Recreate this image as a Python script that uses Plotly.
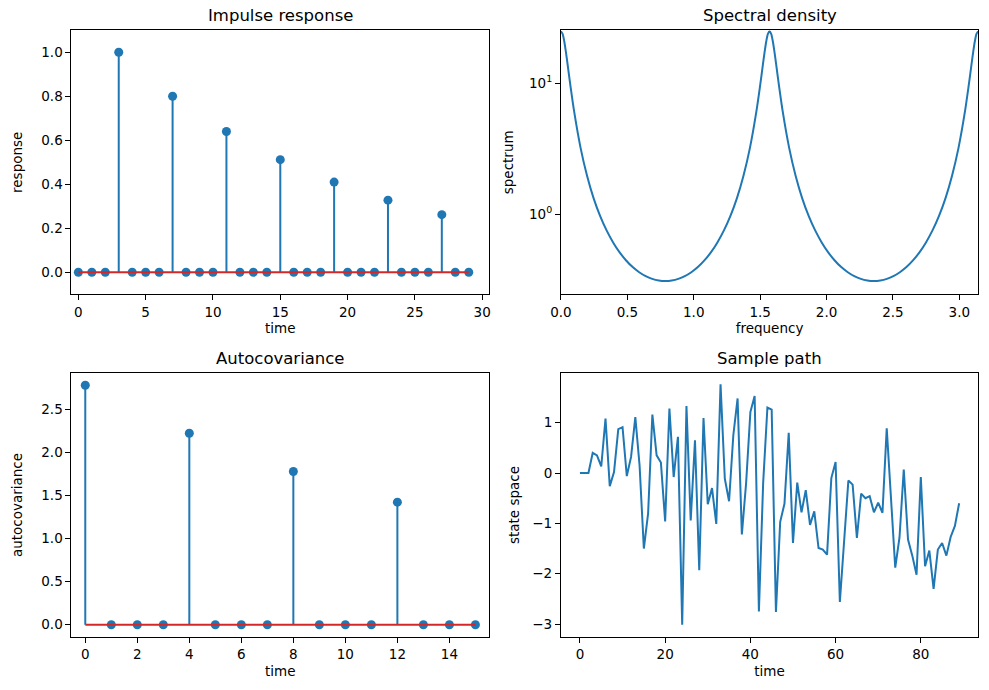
import plotly.graph_objects as go

# ---------------- data ----------------
impulse_time = list(range(30))
impulse_resp = [0, 0, 0, 1.0, 0, 0, 0, 0.8, 0, 0, 0, 0.64, 0, 0, 0, 0.512,
                0, 0, 0, 0.41, 0, 0, 0, 0.328, 0, 0, 0, 0.262, 0, 0]

spec_freq = [0.0, 0.01227, 0.02454, 0.03682, 0.04909, 0.07363, 0.09817, 0.14726,
             0.19635, 0.24544, 0.29452, 0.34361, 0.39270, 0.44179, 0.49087, 0.53996,
             0.58905, 0.63814, 0.68722, 0.73631, 0.78540, 0.83449, 0.88357, 0.93266,
             0.98175, 1.03084, 1.07992, 1.12901, 1.17810, 1.22718, 1.27627, 1.32536,
             1.37445, 1.42353, 1.47262, 1.49717, 1.52171, 1.53398, 1.54625, 1.55853,
             1.57080, 1.58307, 1.59534, 1.60762, 1.61988, 1.64443, 1.66897, 1.71806,
             1.76715, 1.81623, 1.86532, 1.91441, 1.96350, 2.01258, 2.06167, 2.11076,
             2.15984, 2.20893, 2.25802, 2.30711, 2.35619, 2.40528, 2.45437, 2.50346,
             2.55254, 2.60163, 2.65072, 2.69981, 2.74889, 2.79798, 2.84707, 2.89616,
             2.94524, 2.99433, 3.04342, 3.06796, 3.09251, 3.10478, 3.11705, 3.12932,
             3.14159]
spec_vals = [25.0, 23.85, 20.96, 17.45, 14.14, 9.18, 6.18, 3.23,
             1.97, 1.33, 0.973, 0.753, 0.610, 0.512, 0.444, 0.395,
             0.361, 0.337, 0.321, 0.312, 0.309, 0.312, 0.321, 0.337,
             0.361, 0.395, 0.444, 0.512, 0.610, 0.753, 0.973, 1.33,
             1.97, 3.23, 6.18, 9.18, 14.14, 17.45, 20.96, 23.85,
             25.0, 23.85, 20.96, 17.45, 14.14, 9.18, 6.18, 3.23,
             1.97, 1.33, 0.973, 0.753, 0.610, 0.512, 0.444, 0.395,
             0.361, 0.337, 0.321, 0.312, 0.309, 0.312, 0.321, 0.337,
             0.361, 0.395, 0.444, 0.512, 0.610, 0.753, 0.973, 1.33,
             1.97, 3.23, 6.18, 9.18, 14.14, 17.45, 20.96, 23.85,
             25.0]

acov_time = list(range(16))
acov_vals = [2.778, 0, 0, 0, 2.222, 0, 0, 0, 1.778, 0, 0, 0, 1.422, 0, 0, 0]

path_time = list(range(90))
path_vals = [0, 0, 0, 0.40, 0.35, 0.13, 1.08, -0.26, 0.02, 0.87,
             0.91, -0.06, 0.32, 1.11, 0.15, -1.50, -0.80, 1.16, 0.35, 0.21,
             -0.96, 1.28, -0.08, 0.72, -3.01, 1.33, -0.94, 0.65, -1.93, 1.09,
             -0.62, -0.30, -1.01, 1.76, -0.11, -0.56, 0.75, 1.48, -1.22, -0.20,
             1.21, 1.53, -2.75, -0.20, 1.30, 1.26, -2.76, -0.97, -0.61, 0.80,
             -1.39, -0.19, -0.78, -0.34, -1.03, -0.76, -1.49, -1.52, -1.62, -0.10,
             0.22, -2.56, -1.35, -0.15, -0.23, -1.29, -0.41, -0.50, -0.46, -0.78,
             -0.59, -0.79, 0.89, -0.60, -1.88, -1.28, 0.07, -1.32, -1.64, -2.02,
             -0.08, -1.85, -1.54, -2.30, -1.52, -1.39, -1.64, -1.27, -1.05, -0.60]

log_major = [1, 10]
log_major_text = ["10<sup>0</sup>", "10<sup>1</sup>"]
log_minor = [0.3, 0.4, 0.5, 0.6, 0.7, 0.8, 0.9, 2, 3, 4, 5, 6, 7, 8, 9, 20]

# ---------------- style ----------------
BLUE = "#1f77b4"
RED = "#d62728"
FONT = "DejaVu Sans"
W, H = 989, 690

fig = go.Figure()


def stem(x, y, xa, ya):
    fig.add_trace(go.Scatter(
        x=x, y=y, mode="markers", xaxis=xa, yaxis=ya,
        marker=dict(color=BLUE, size=9, line=dict(width=0)),
        error_y=dict(type="data", symmetric=False, array=[0] * len(y),
                     arrayminus=y, width=0, thickness=2, color=BLUE),
        showlegend=False, hoverinfo="skip"))
    fig.add_trace(go.Scatter(
        x=[x[0], x[-1]], y=[0, 0], mode="lines", xaxis=xa, yaxis=ya,
        line=dict(color=RED, width=2), showlegend=False, hoverinfo="skip"))


stem(impulse_time, impulse_resp, "x", "y")
fig.add_trace(go.Scatter(x=spec_freq, y=spec_vals, mode="lines", xaxis="x2", yaxis="y2",
                         line=dict(color=BLUE, width=2, shape="spline", smoothing=0.8),
                         showlegend=False))
stem(acov_time, acov_vals, "x3", "y3")
fig.add_trace(go.Scatter(x=path_time, y=path_vals, mode="lines", xaxis="x4", yaxis="y4",
                         line=dict(color=BLUE, width=2), showlegend=False))


def xd(l, r):
    return [l / W, r / W]


def yd(t, b):
    return [1 - b / H, 1 - t / H]


LX = xd(61.3, 484.3)
RX = xd(557.3, 980)
TY = yd(30.3, 294.3)
BY = yd(373.3, 636.7)

tickfont = dict(family=FONT, size=13.5, color="black")
titlefont = dict(family=FONT, size=13.5, color="black")

common = dict(showline=True, linecolor="black", linewidth=1.1, mirror=True,
              ticks="outside", ticklen=5, tickwidth=1.1, tickcolor="black",
              showgrid=False, zeroline=False, tickfont=tickfont)

fig.update_layout(
    width=W, height=H, margin=dict(l=0, r=0, t=0, b=0),
    paper_bgcolor="white", plot_bgcolor="white", showlegend=False,
    font=dict(family=FONT, color="black"),
    xaxis=dict(domain=LX, anchor="y", range=[-0.51, 30.5], tickvals=[0, 5, 10, 15, 20, 25, 30],
               title=dict(text="time", font=titlefont, standoff=5), **common),
    yaxis=dict(domain=TY, anchor="x", range=[-0.1, 1.1],
               tickvals=[0, 0.2, 0.4, 0.6, 0.8, 1.0], tickformat=".1f",
               title=dict(text="response", font=titlefont, standoff=15), **common),
    xaxis2=dict(domain=RX, anchor="y2", range=[0, 3.14159],
                tickvals=[0, 0.5, 1.0, 1.5, 2.0, 2.5, 3.0], tickformat=".1f",
                title=dict(text="frequency", font=titlefont, standoff=5), **common),
    yaxis2=dict(domain=TY, anchor="x2", type="log", range=[-0.611, 1.405],
                tickvals=log_major, ticktext=log_major_text,
                title=dict(text="spectrum", font=titlefont, standoff=12), **common),
    yaxis5=dict(domain=TY, anchor="x2", overlaying="y2", side="left", type="log",
                range=[-0.611, 1.405], tickvals=log_minor, showticklabels=False,
                ticks="outside", ticklen=3, tickwidth=1, tickcolor="black",
                showgrid=False, zeroline=False, showline=False),
    xaxis3=dict(domain=LX, anchor="y3", range=[-0.53, 15.52],
                tickvals=[0, 2, 4, 6, 8, 10, 12, 14],
                title=dict(text="time", font=titlefont, standoff=5), **common),
    yaxis3=dict(domain=BY, anchor="x3", range=[-0.139, 2.917],
                tickvals=[0, 0.5, 1.0, 1.5, 2.0, 2.5], tickformat=".1f",
                title=dict(text="autocovariance", font=titlefont, standoff=15), **common),
    xaxis4=dict(domain=RX, anchor="y4", range=[-4.45, 93.45],
                tickvals=[0, 20, 40, 60, 80],
                title=dict(text="time", font=titlefont, standoff=5), **common),
    yaxis4=dict(domain=BY, anchor="x4", range=[-3.25, 1.98],
                tickvals=[-3, -2, -1, 0, 1],
                title=dict(text="state space", font=titlefont, standoff=9), **common),
)

titles = [("Impulse response", LX, TY), ("Spectral density", RX, TY),
          ("Autocovariance", LX, BY), ("Sample path", RX, BY)]
for text, dx, dy in titles:
    fig.add_annotation(text=text, xref="paper", yref="paper",
                       x=(dx[0] + dx[1]) / 2, y=dy[1], xanchor="center", yanchor="bottom",
                       yshift=3, showarrow=False,
                       font=dict(family=FONT, size=16.5, color="black"))

fig.write_html("out.html")
